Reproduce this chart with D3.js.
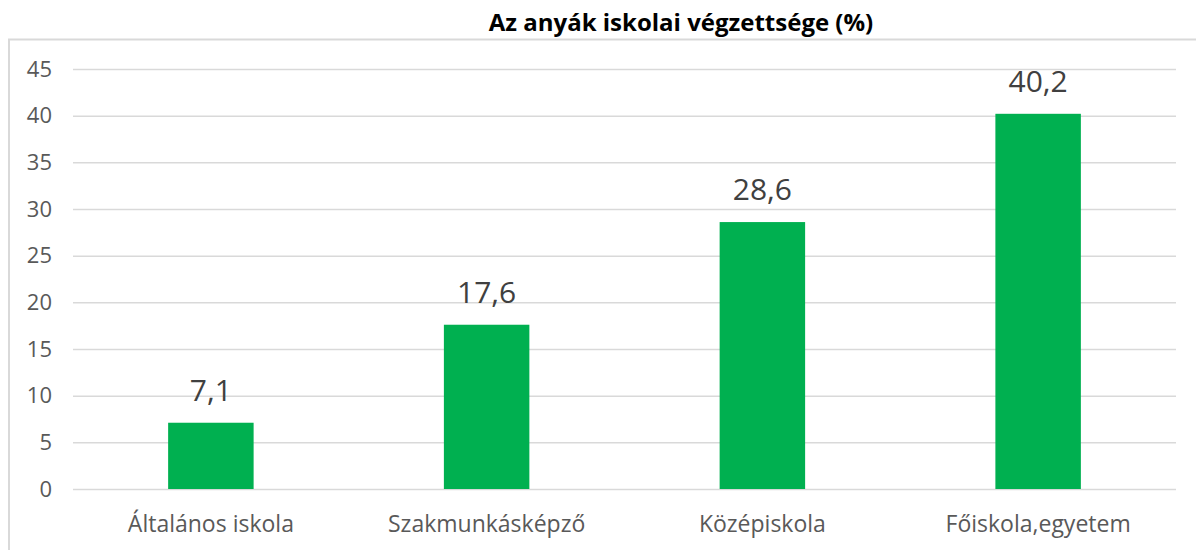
<!DOCTYPE html>
<html lang="hu">
	<head>
		<meta charset="utf-8">
		<title>Az anyák iskolai végzettsége</title>
		<script src="https://d3js.org/d3.v7.min.js"></script>
		<style>
			body { margin: 0; background: #fff; }
			text { font-family: "Open Sans", "DejaVu Sans", sans-serif; }
		</style>
	</head>
	<body>
		<script type="text/javascript">

			// data
			var categories = ["Általános iskola", "Szakmunkásképző", "Középiskola", "Főiskola,egyetem"];
			var values = [7.1, 17.6, 28.6, 40.2];
			var yTicks = [0, 5, 10, 15, 20, 25, 30, 35, 40, 45];
			var title = "Az anyák iskolai végzettsége (%)";

			var w = 1196;
			var h = 550;
			var plot = {left: 73, right: 1176, top: 69, bottom: 489};
			var fmt = function(v) { return String(v).replace(".", ","); };

			var svg = d3.select("body")
			  .append("svg")
			    .attr("width", w)
			    .attr("height", h);

			// outer frame (cut off on right and bottom)
			svg.append("rect")
			    .attr("x", 9).attr("y", 39.5)
			    .attr("width", w + 20).attr("height", h)
			    .attr("fill", "none")
			    .attr("stroke", "#d9d9d9")
			    .attr("stroke-width", 2);

			svg.append("text")
			    .attr("x", 681).attr("y", 31)
			    .attr("text-anchor", "middle")
			    .attr("font-size", 24)
			    .attr("font-weight", "bold")
			    .attr("fill", "#000")
			    .text(title);

			var xScale = d3.scaleBand()
			      .domain(categories)
			      .range([plot.left, plot.right])
			      .padding(0);
			var yScale = d3.scaleLinear()
			      .domain([0, 45])
			      .range([plot.bottom, plot.top]);

			// gridlines + y labels
			var yAxis = d3.axisLeft(yScale)
			      .tickValues(yTicks)
			      .tickSize(-(plot.right - plot.left))
			      .tickPadding(21)
			      .tickFormat(d3.format("d"));
			var gy = svg.append("g")
			      .attr("transform", `translate(${plot.left},0)`)
			      .call(yAxis);
			gy.select(".domain").remove();
			gy.selectAll(".tick line").attr("stroke", "#d9d9d9").attr("stroke-width", 1.5);
			gy.selectAll(".tick text")
			    .attr("font-size", 22)
			    .attr("fill", "#595959")
			    .attr("font-family", "Open Sans");

			var barW = xScale.bandwidth() * 0.31;

			svg.append("g").selectAll("rect")
			    .data(values)
			    .enter().append("rect")
			    .attr("x", function(d, i) { return xScale(categories[i]) + (xScale.bandwidth() - barW) / 2; })
			    .attr("y", function(d) { return yScale(d); })
			    .attr("width", barW)
			    .attr("height", function(d) { return yScale(0) - yScale(d); })
			    .attr("fill", "#00b050");

			// value labels
			svg.append("g").selectAll("text")
			    .data(values)
			    .enter().append("text")
			    .attr("x", function(d, i) { return xScale(categories[i]) + xScale.bandwidth() / 2; })
			    .attr("y", function(d) { return yScale(d) - 22; })
			    .attr("text-anchor", "middle")
			    .attr("font-size", 30)
			    .attr("fill", "#404040")
			    .text(function(d) { return fmt(d); });

			// category labels
			var xAxis = d3.axisBottom(xScale).tickSize(0).tickPadding(0);
			var gx = svg.append("g")
			      .attr("transform", `translate(0,${plot.bottom})`)
			      .call(xAxis);
			gx.select(".domain").remove();
			gx.selectAll(".tick text")
			    .attr("dy", null)
			    .attr("y", 43)
			    .attr("font-size", 23)
			    .attr("fill", "#595959")
			    .attr("font-family", "Open Sans");

		</script>
	</body>
</html>
